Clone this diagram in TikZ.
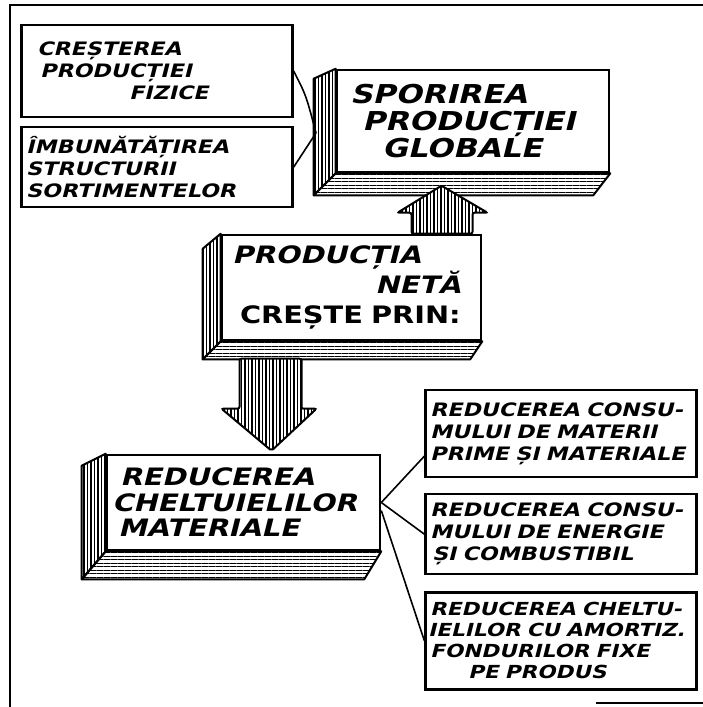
\documentclass[tikz,border=0pt]{standalone}
\usepackage{fontspec}
\newfontfamily\handfont[FakeSlant=0.25,FakeStretch=1.2]{DejaVu Sans}
\newfontfamily\handupright[FakeStretch=1.2]{DejaVu Sans}
\usetikzlibrary{positioning, calc, patterns.meta}

\begin{document}
\begin{tikzpicture}[x=1pt, y=-1pt,
  card/.style = {draw, line width=2.2pt, inner xsep=2.5pt, inner ysep=0pt, text width=266pt, align=left, font=\handfont\bfseries\fontsize{18.5}{22}\selectfont},
  block/.style = {draw, line width=2.6pt, fill=white, inner xsep=5pt, inner ysep=0pt, align=left},
  face/.style = {draw, line width=2pt, line join=round},
  vlines/.style = {pattern={Lines[angle=90, distance=3.5pt, line width=1.1pt]}},
  hlines/.style = {pattern={Lines[angle=0, distance=3.5pt, line width=1pt]}},
  bigarrow/.style = {draw, line width=2pt, rounded corners=2pt, preaction={fill=white}, vlines},
  link/.style = {line width=1.6pt},
  frame/.style = {line width=2.4pt}]
\useasboundingbox (0,0) rectangle (703,707);

% frame of the figure
\draw[frame] (10,707) -- (10,5) -- (703,5);
\draw[frame] (596,703) -- (703,703);

% left column
\node[card, minimum height=92pt] (crest) at (157,71) {\hspace*{13pt}CREȘTEREA\\\hspace*{16pt}PRODUCȚIEI\\\hspace*{105pt}FIZICE};
\node[card, minimum height=80pt, below=8pt of crest] (imbun) {\hspace*{2pt}ÎMBUNĂTĂȚIREA\\\hspace*{2pt}STRUCTURII\\\hspace*{2pt}SORTIMENTELOR};

% the three blocks
\node[block, text width=262pt, minimum height=102pt, font=\handfont\bfseries\fontsize{26}{27}\selectfont] (glob) at (473,121) {\hspace*{8pt}SPORIREA\\\hspace*{20pt}PRODUCȚIEI\\\hspace*{40pt}GLOBALE};
\node[block, text width=249pt, minimum height=105pt, font=\handfont\bfseries\fontsize{24}{30}\selectfont] (neta) at (351.5,287.5) {\hspace*{5pt}PRODUCȚIA\\\hspace*{148pt}NETĂ\\\handupright\bfseries\hspace*{13pt}CREȘTE PRIN:};
\node[block, text width=263pt, minimum height=95pt, font=\handfont\bfseries\fontsize{24}{25.5}\selectfont] (mat) at (243.5,502.5) {\hspace*{8pt}REDUCEREA\\CHELTUIELILOR\\\hspace*{6pt}MATERIALE};

% right column
\node[card, minimum height=87pt] (redmat) at (561,433.5) {\hspace*{2pt}REDUCEREA CONSU-\\\hspace*{2pt}MULUI DE MATERII\\\hspace*{2pt}PRIME ȘI MATERIALE};
\node[card, minimum height=80pt, below=15pt of redmat] (redener) {\hspace*{2pt}REDUCEREA CONSU-\\\hspace*{2pt}MULUI DE ENERGIE\\\hspace*{4pt}ȘI COMBUSTIBIL};
\node[card, minimum height=97pt, below=16pt of redener, font=\handfont\bfseries\fontsize{18}{21}\selectfont] (redamort) {\hspace*{2pt}REDUCEREA CHELTU-\\IELILOR CU AMORTIZ.\\\hspace*{2pt}FONDURILOR FIXE\\\hspace*{40pt}PE PRODUS};

% side and bottom faces
\foreach \b/\dx/\dy/\dz/\de in {glob/22/22/10/17, neta/18/18/15/12, mat/24/28/12/17} {
  \draw[face, vlines] (\b.north west) -- ++(-\dx,\dz) -- ($(\b.south west)+(-\dx,\dy)$) -- (\b.south west) -- cycle;
  \draw[face, hlines] (\b.south west) -- ++(-\dx,\dy) -- ($(\b.south east)+(-\de,\dy)$) -- (\b.south east) -- cycle;
}

% broad arrows
\draw[bigarrow] ($(neta.north)+(60,0)$) -- ++(0,-21) -- ++(-14,0) -- ++(44,-27) -- ++(46,27) -- ++(-15,0) -- ++(0,21) -- cycle;
\draw[bigarrow] ($(mat.north)+(28,-3)$) -- ++(-50,-42) -- ++(18,0) -- ++(0,-50) -- ++(62,0) -- ++(0,50) -- ++(15,0) -- cycle;

% thin links
\coordinate (gin) at (316,133);
\draw[link] (crest.east) .. controls (306,95) .. (gin);
\draw[link] (imbun.east) -- (gin);
\draw[link] (mat.east) -- ([yshift=22pt]redmat.south west);
\draw[link] (mat.east) -- (redener.west);
\draw[link] ([yshift=-8pt]mat.east) -- (redamort.west);
\end{tikzpicture}
\end{document}
